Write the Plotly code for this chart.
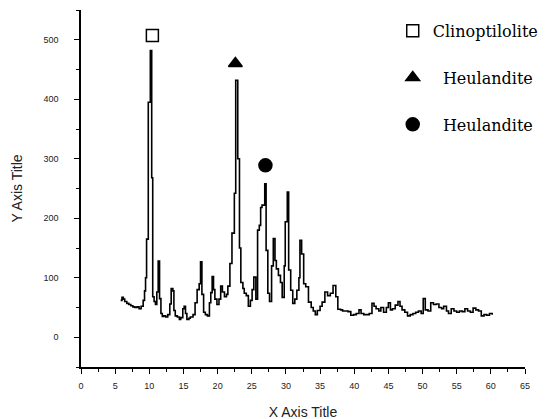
import plotly.graph_objects as go

two_theta = [5.8, 6.0, 6.2, 6.4, 6.7, 7.0, 7.3, 7.6, 7.9, 8.2, 8.5, 8.8, 9.1, 9.3, 9.45, 9.6, 9.85, 10.15, 10.35, 10.5,
             10.7, 10.9, 11.1, 11.3, 11.5, 11.7, 11.9, 12.1, 12.4, 12.7, 13.0, 13.2, 13.45, 13.6, 13.8, 14.1, 14.4, 14.6, 14.9, 15.1,
             15.3, 15.5, 15.8, 16.0, 16.4, 16.7, 17.0, 17.3, 17.5, 17.7, 17.95, 18.2, 18.5, 18.8, 19.0, 19.2, 19.4, 19.6, 19.9, 20.2,
             20.45, 20.7, 21.0, 21.3, 21.5, 21.8, 22.1, 22.45, 22.65, 22.95, 23.2, 23.4, 23.7, 23.9, 24.2, 24.5, 24.8, 25.05, 25.3, 25.6,
             25.85, 26.1, 26.3, 26.5, 26.9, 27.1, 27.35, 27.6, 27.9, 28.15, 28.4, 28.6, 28.9, 29.2, 29.45, 29.75, 29.9, 30.2, 30.4, 30.7,
             31.0, 31.3, 31.6, 31.9, 32.05, 32.3, 32.6, 32.9, 33.3, 33.7, 34.0, 34.3, 34.6, 35.0, 35.3, 35.7, 36.1, 36.5, 36.9, 37.3,
             37.6, 38.0, 38.3, 38.7, 39.1, 39.5, 39.9, 40.3, 40.7, 41.0, 41.4, 41.8, 42.2, 42.6, 42.9, 43.2, 43.6, 43.9, 44.3, 44.7,
             45.0, 45.3, 45.6, 46.0, 46.4, 46.7, 47.0, 47.4, 47.8, 48.2, 48.6, 49.0, 49.4, 49.8, 50.1, 50.4, 50.8, 51.2, 51.6, 52.0,
             52.4, 52.8, 53.1, 53.5, 53.8, 54.2, 54.6, 55.0, 55.4, 55.8, 56.2, 56.6, 57.0, 57.4, 57.8, 58.2, 58.6, 59.0, 59.4, 59.8,
             60.2]
intensity = [62, 67, 64, 60, 57, 55, 53, 51, 50, 51, 48, 52, 62, 78, 100, 165, 395, 482, 268, 68,
             60, 55, 76, 128, 65, 40, 35, 36, 34, 38, 56, 82, 78, 45, 36, 34, 30, 33, 48, 52,
             40, 30, 32, 34, 38, 58, 80, 90, 127, 72, 42, 38, 36, 58, 75, 102, 80, 64, 55, 64,
             86, 76, 68, 72, 86, 124, 175, 242, 432, 300, 150, 92, 82, 74, 70, 52, 62, 80, 101, 64,
             180, 188, 218, 222, 258, 146, 74, 60, 120, 166, 129, 115, 104, 92, 67, 120, 194, 244, 113, 79,
             57, 64, 79, 100, 163, 140, 90, 85, 59, 50, 44, 38, 45, 52, 59, 76, 70, 74, 87, 68,
             47, 46, 44, 44, 43, 37, 38, 40, 46, 40, 38, 38, 40, 57, 52, 48, 44, 50, 42, 50,
             58, 46, 48, 54, 60, 52, 46, 42, 36, 38, 40, 42, 44, 40, 65, 46, 44, 58, 55, 56,
             50, 48, 52, 44, 40, 48, 44, 42, 44, 43, 48, 44, 42, 49, 46, 44, 36, 38, 37, 40,
             38]

phase_names = ["Clinoptilolite", "\u00a0\u00a0Heulandite", "\u00a0\u00a0Heulandite"]
phase_x = [10.45, 22.6, 27.0]
phase_y = [507, 460, 289]
phase_symbols = ["square-open", "triangle-up", "circle"]
phase_sizes = [12, 12, 13]

x_ticks = list(range(0, 70, 5))
x_ticklabels = [str(v) for v in x_ticks]
y_ticks = [0, 100, 200, 300, 400, 500]

fig = go.Figure()
fig.add_trace(go.Scatter(x=two_theta, y=intensity, mode="lines", line=dict(color="black", width=1.6, shape="hv"),
                         showlegend=False, hoverinfo="skip"))
for i in range(3):
    fig.add_trace(go.Scatter(x=[phase_x[i]], y=[phase_y[i]], mode="markers", name=phase_names[i],
                             legendgroup="g%d" % i,
                             marker=dict(symbol=phase_symbols[i], size=phase_sizes[i], color="black",
                                         line=dict(color="black", width=1.5))))

tickfont = dict(family="Liberation Sans, Arial, sans-serif", size=9, color="#222")
titlefont = dict(family="Liberation Sans, Arial, sans-serif", size=14, color="#222")
fig.update_layout(
    width=550, height=419,
    margin=dict(l=73, r=33, t=2, b=60, autoexpand=False),
    paper_bgcolor="white", plot_bgcolor="white",
    showlegend=True,
    legend=dict(xref="container", yref="container", x=0.6995, y=0.986, xanchor="left", yanchor="top",
                traceorder="grouped", tracegroupgap=23,
                font=dict(family="DejaVu Serif, serif", size=16, color="black"), bgcolor="rgba(0,0,0,0)",
                itemsizing="trace"),
    xaxis=dict(range=[0, 65], tickvals=x_ticks, ticktext=x_ticklabels, showgrid=False, zeroline=False,
               showline=True, linecolor="black", linewidth=1.5, ticks="outside", ticklen=5, tickwidth=1.2,
               tickcolor="black", tickfont=tickfont, ticklabelstandoff=4, automargin=False,
               minor=dict(dtick=2.5, ticks="outside", ticklen=3, tickwidth=1, tickcolor="black"),
               title=dict(text="X Axis Title", font=titlefont, standoff=18)),
    yaxis=dict(range=[-50, 550], tickvals=y_ticks, showgrid=False, zeroline=False,
               showline=True, linecolor="black", linewidth=1.5, ticks="outside", ticklen=5, tickwidth=1.2,
               tickcolor="black", tickfont=tickfont, ticklabelstandoff=14, automargin=False,
               minor=dict(dtick=50, ticks="outside", ticklen=3, tickwidth=1, tickcolor="black"),
               title=dict(text="Y Axis Title", font=titlefont, standoff=18)),
)
fig.write_html("out.html")
